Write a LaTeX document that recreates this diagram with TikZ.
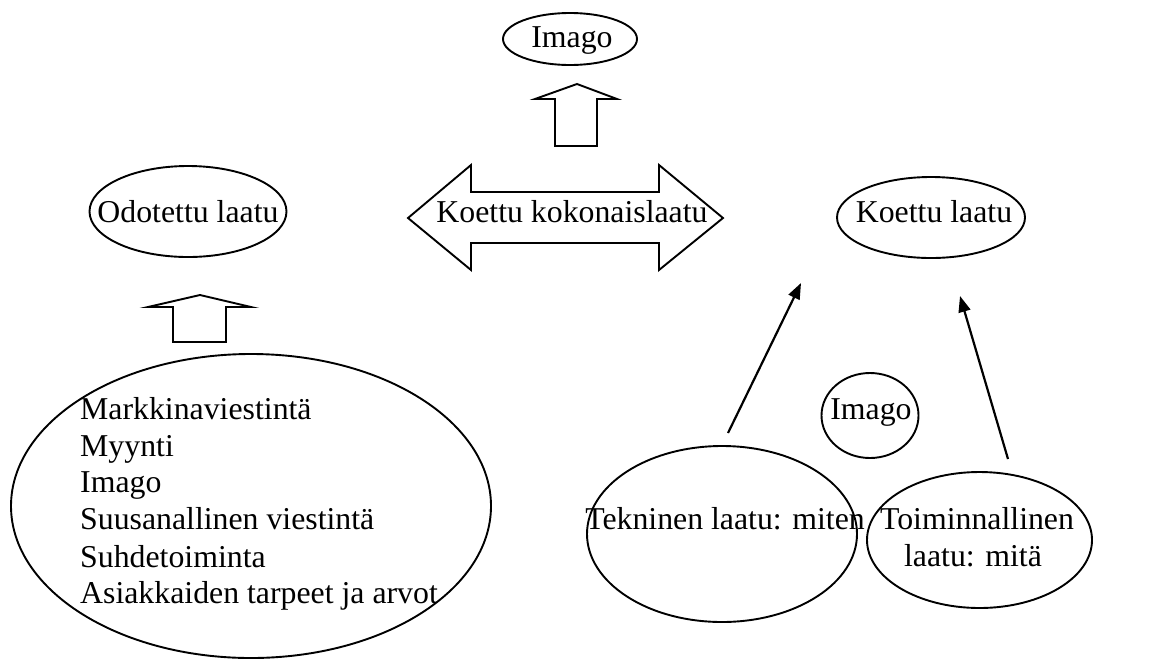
\documentclass[tikz,border=0pt]{standalone}
\usepackage{fontspec}
\setmainfont{Liberation Serif}
\usetikzlibrary{shapes.geometric,arrows.meta}
\begin{document}
\begin{tikzpicture}[x=1pt,y=-1pt,
  ell/.style={draw, ellipse, line width=1.9pt, inner sep=0pt},
  txt/.style={anchor=base, inner sep=0pt, font=\fontsize{31.8}{37}\selectfont},
  ltxt/.style={txt, anchor=base west},
  blk/.style={draw, line width=1.9pt, line join=miter},
  arr/.style={line width=2.2pt, -{Triangle[length=16pt,width=12pt]}}]
\useasboundingbox (0,0) rectangle (1155,659);
% ellipses
\node[ell, minimum width=134pt, minimum height=52pt] (imagoTop) at (570,39) {};
\node[ell, minimum width=197pt, minimum height=91pt] (odotettu) at (188,211.5) {};
\node[ell, minimum width=188pt, minimum height=81pt] (koettu) at (931,217.5) {};
\node[ell, minimum width=480pt, minimum height=304pt] (big) at (251,506) {};
\node[ell, minimum width=97pt, minimum height=85pt] (imagoSmall) at (870,415.5) {};
\node[ell, minimum width=270pt, minimum height=176pt] (tek) at (722,534) {};
\node[ell, minimum width=225pt, minimum height=136pt] (toim) at (979.5,540) {};
% texts
\node[txt] (tImagoTop) at (572,47) {Imago};
\node[txt] (tOdotettu) at (188,222) {Odotettu laatu};
\node[txt] (tKoettu) at (934,222) {Koettu laatu};
\node[txt] (tKok) at (572,222) {Koettu kokonaislaatu};
\node[txt] (tImagoSmall) at (871,419) {Imago};
\node[txt] (tTek) at (725,529) {Tekninen laatu: miten};
\node[txt] (tToim1) at (977,529) {Toiminnallinen};
\node[txt] (tToim2) at (973,566) {laatu: mitä};
\node[ltxt] (l1) at (80,419) {Markkinaviestintä};
\node[ltxt] (l2) at (80,456) {Myynti};
\node[ltxt] (l3) at (80,492) {Imago};
\node[ltxt] (l4) at (80,529) {Suusanallinen viestintä};
\node[ltxt] (l5) at (80,567) {Suhdetoiminta};
\node[ltxt] (l6) at (80,603) {Asiakkaiden tarpeet ja arvot};
% block arrows
\draw[blk] (555,146) -- (555,99) -- (535,99) -- (577,84) -- (617,99) -- (597,99) -- (597,146) -- cycle;
\draw[blk] (173,342) -- (173,307) -- (148,307) -- (200,295) -- (251,307) -- (226,307) -- (226,342) -- cycle;
\draw[blk] (408,218) -- (471,165) -- (471,192) -- (659,192) -- (659,165) -- (723,218) -- (659,270) -- (659,243) -- (471,243) -- (471,270) -- cycle;
% thin arrows
\coordinate (a1s) at (728,433);
\coordinate (a1e) at (801,283);
\coordinate (a2s) at (1008,459);
\coordinate (a2e) at (960,296);
\draw[arr] (a1s) -- (a1e);
\draw[arr] (a2s) -- (a2e);
\end{tikzpicture}
\end{document}
